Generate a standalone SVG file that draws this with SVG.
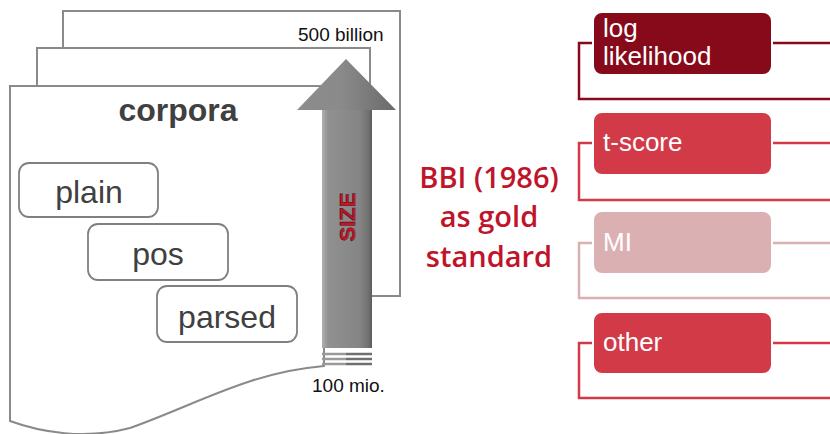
<svg xmlns="http://www.w3.org/2000/svg" width="830" height="434" viewBox="0 0 830 434">
  <defs>
    <linearGradient id="arrowFill" x1="0" y1="0" x2="1" y2="0">
      <stop offset="0" stop-color="#8c8c8c"/>
      <stop offset="0.45" stop-color="#8a8a8a"/>
      <stop offset="1" stop-color="#6a6a6a"/>
    </linearGradient>
    <linearGradient id="shaftFill" x1="0" y1="0" x2="1" y2="0">
      <stop offset="0" stop-color="#b0b0b0"/>
      <stop offset="0.12" stop-color="#919191"/>
      <stop offset="0.75" stop-color="#858585"/>
      <stop offset="0.92" stop-color="#727272"/>
      <stop offset="1" stop-color="#5c5c5c"/>
    </linearGradient>
    <style>
      .page { fill: #ffffff; stroke: #8a8a8a; stroke-width: 2; }
      .tag { fill: #ffffff; stroke: #808080; stroke-width: 1.8; }
      .tagText { font-family: "Liberation Sans", Arial, sans-serif; font-size: 32px; fill: #404040; text-anchor: middle; }
      .small { font-family: "Liberation Sans", Arial, sans-serif; font-size: 19px; fill: #111111; }
      .gold { font-family: "Open Sans", "Liberation Sans", sans-serif; font-size: 29px; font-weight: 600; fill: #c0142a; text-anchor: middle; }
      .box { stroke: #ffffff; stroke-width: 2; }
      .boxText { font-family: "Liberation Sans", Arial, sans-serif; font-size: 26px; fill: #ffffff; }
      .bracket { fill: none; stroke-width: 2.5; }
    </style>
  </defs>

  <!-- stacked corpus pages -->
  <g id="page-back">
    <rect class="page" x="63" y="11" width="337" height="285"/>
    <text class="small" x="298" y="41">500 billion</text>
  </g>
  <g id="page-middle">
    <rect class="page" x="37" y="48" width="333" height="280"/>
  </g>
  <g id="page-front">
    <path class="page" d="M10,86 L324,86 L324,366 C250,372 195,405 130,428 C85,440 40,432 10,421 Z"/>
    <text x="178" y="121" font-family="Liberation Sans, Arial, sans-serif" font-size="32" font-weight="bold" fill="#404040" text-anchor="middle">corpora</text>
  </g>

  <!-- annotation layers -->
  <g id="tag-plain">
    <rect class="tag" x="19" y="163" width="139" height="54" rx="10"/>
    <text class="tagText" x="89" y="203">plain</text>
  </g>
  <g id="tag-pos">
    <rect class="tag" x="88" y="224" width="140" height="56" rx="10"/>
    <text class="tagText" x="158" y="265">pos</text>
  </g>
  <g id="tag-parsed">
    <rect class="tag" x="157" y="286" width="140" height="56" rx="10"/>
    <text class="tagText" x="227" y="328">parsed</text>
  </g>

  <!-- size arrow -->
  <g id="size-arrow">
    <path d="M346,59 L396,110 L297,110 Z" fill="url(#arrowFill)"/>
    <rect x="322" y="110" width="50" height="238" fill="url(#shaftFill)"/>
    <g stroke-width="2.5">
      <line x1="322" y1="354" x2="346" y2="354" stroke="#9a9a9a"/>
      <line x1="346" y1="354" x2="372" y2="354" stroke="#6e6e6e"/>
      <line x1="322" y1="359" x2="346" y2="359" stroke="#9a9a9a"/>
      <line x1="346" y1="359" x2="372" y2="359" stroke="#6e6e6e"/>
      <line x1="322" y1="364" x2="346" y2="364" stroke="#9a9a9a"/>
      <line x1="346" y1="364" x2="372" y2="364" stroke="#6e6e6e"/>
    </g>
    <text transform="translate(355,217) rotate(-90)" x="0" y="0" font-family="Liberation Sans, Arial, sans-serif" font-size="22" font-weight="bold" fill="#d0101e" stroke="#4a1a28" stroke-width="0.6" text-anchor="middle">SIZE</text>
    <text class="small" x="312" y="392">100 mio.</text>
  </g>

  <!-- reference label -->
  <g id="gold-standard">
    <text class="gold" x="489" y="188">BBI (1986)</text>
    <text class="gold" x="489" y="227">as gold</text>
    <text class="gold" x="489" y="267">standard</text>
  </g>

  <!-- brackets behind the measure boxes -->
  <g id="connectors">
    <path class="bracket" stroke="#870a1a" d="M592,43 H579 V99 H830 M772,43 H830"/>
    <path class="bracket" stroke="#d23a48" d="M592,143 H579 V200 H830 M772,143 H830"/>
    <path class="bracket" stroke="#dbb0b2" d="M592,243 H579 V298 H830 M772,243 H830"/>
    <path class="bracket" stroke="#d23a48" d="M592,343 H579 V398 H830 M772,343 H830"/>
  </g>

  <!-- association measures -->
  <g id="measure-loglikelihood">
    <rect class="box" x="593" y="12" width="179" height="63" rx="9" fill="#870a1a"/>
    <text class="boxText" x="603" y="37">log</text>
    <text class="boxText" x="603" y="65">likelihood</text>
  </g>
  <g id="measure-tscore">
    <rect class="box" x="593" y="112" width="179" height="63" rx="9" fill="#d23a48"/>
    <text class="boxText" x="603" y="151">t-score</text>
  </g>
  <g id="measure-mi">
    <rect class="box" x="593" y="211" width="179" height="63" rx="9" fill="#dbb0b2"/>
    <text class="boxText" x="603" y="251">MI</text>
  </g>
  <g id="measure-other">
    <rect class="box" x="593" y="312" width="179" height="62" rx="9" fill="#d23a48"/>
    <text class="boxText" x="603" y="351">other</text>
  </g>
</svg>
